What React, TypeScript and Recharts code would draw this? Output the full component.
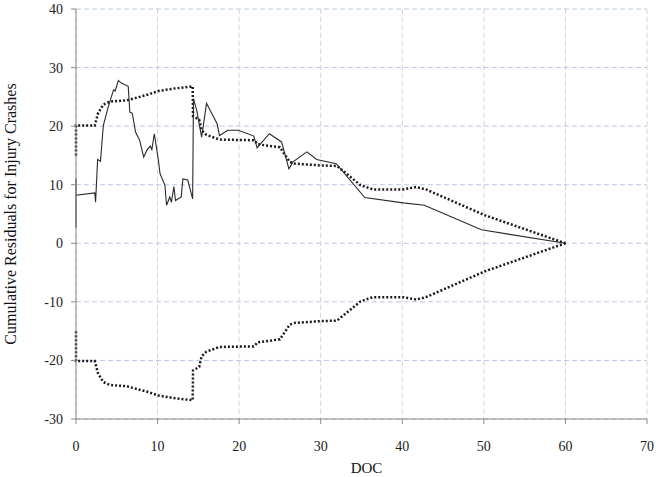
import React from "react";
import { LineChart, Line, XAxis, YAxis, CartesianGrid, Label } from "recharts";

// CUSUM-style plot: cumulative residuals vs DOC with upper/lower bounds

const xTicks = [0, 10, 20, 30, 40, 50, 60, 70];
const yTicks = [-30, -20, -10, 0, 10, 20, 30, 40];

const residualX = [
  0, 0, 0, 2.3, 2.4, 2.65, 3.0, 3.35, 3.95, 4.6, 4.8, 5.2, 5.5, 6.4, 6.6, 6.9,
  7.3, 7.8, 8.3, 8.7, 9.1, 9.3, 9.6, 10.1, 10.3, 10.9, 11.1, 11.5, 11.7, 12.0,
  12.2, 12.9, 13.1, 13.7, 14.3, 14.4, 14.8, 15.4, 16.0, 17.3, 17.6, 18.6, 19.9,
  21.8, 22.2, 23.7, 25.2, 26.1, 26.6, 28.3, 29.5, 31.9, 35.4, 40.1, 42.7, 49.7,
  60,
];
const residualY = [
  11, 2.7, 8.2, 8.6, 7.0, 14.3, 14.0, 20.1, 23.3, 26.2, 26.0, 27.8, 27.4, 26.8,
  22.4, 22.2, 19.0, 17.6, 14.7, 15.9, 16.6, 16.0, 18.7, 14.2, 11.9, 9.9, 6.5,
  7.9, 7.0, 9.7, 7.3, 7.9, 11.0, 10.8, 7.6, 24.7, 22.7, 18.1, 23.9, 20.4, 18.4,
  19.3, 19.3, 18.3, 16.3, 18.7, 17.3, 12.7, 13.9, 15.6, 14.3, 13.6, 7.8, 6.9,
  6.5, 2.3, 0,
];

const boundX = [
  0, 0, 2.3, 2.7, 3.35, 4.2, 6.2, 7.8, 8.85, 10.1, 11.9, 14.3, 14.35, 15.1,
  15.4, 16.0, 17.6, 21.8, 22.3, 25.0, 26.2, 26.8, 29.9, 32.0, 34.9, 36.4, 40.1,
  41.7, 42.9, 50.1, 60,
];
const upperY = [
  15, 20.1, 20.1, 22.2, 23.7, 24.2, 24.4, 25.0, 25.4, 26.0, 26.4, 26.8, 21.7,
  21.1, 19.3, 18.5, 17.7, 17.6, 16.9, 16.4, 13.9, 13.6, 13.3, 13.2, 9.9, 9.2,
  9.2, 9.6, 9.2, 4.8, 0,
];
const lowerY = [
  -15, -20.1, -20.1, -22.2, -23.7, -24.2, -24.4, -25.0, -25.4, -26.0, -26.4,
  -26.8, -21.7, -21.1, -19.3, -18.5, -17.7, -17.6, -16.9, -16.4, -13.9, -13.6,
  -13.3, -13.2, -9.9, -9.2, -9.2, -9.6, -9.2, -4.8, 0,
];

const residualData = residualX.map((x, i) => ({ x, y: residualY[i] }));
const upperData = boundX.map((x, i) => ({ x, y: upperY[i] }));
const lowerData = boundX.map((x, i) => ({ x, y: lowerY[i] }));

const serif = "'Liberation Serif', 'Times New Roman', serif";

export default function App() {
  return (
    <div style={{ position: "absolute", left: 0, top: 0, background: "#fff" }}>
      <LineChart
        width={656}
        height={477}
        margin={{ top: 9, right: 9, bottom: 0, left: 0 }}
      >
        <CartesianGrid
          horizontal={false}
          stroke="#d4d4d4"
          strokeDasharray="5 3"
        />
        <CartesianGrid
          vertical={false}
          stroke="#b9c9e6"
          strokeDasharray="5 3"
        />
        <XAxis
          dataKey="x"
          type="number"
          domain={[0, 70]}
          ticks={xTicks}
          height={58}
          stroke="#888"
          tickSize={5}
          tickMargin={17}
          tick={{ fill: "#222", fontSize: 14, fontFamily: serif }}
        >
          <Label
            value="DOC"
            position="insideBottom"
            offset={4}
            dx={5}
            style={{ fill: "#111", fontSize: 15, fontFamily: serif }}
          />
        </XAxis>
        <YAxis
          type="number"
          domain={[-30, 40]}
          ticks={yTicks}
          width={76}
          stroke="#888"
          tickSize={5}
          tickMargin={8}
          tick={{ fill: "#222", fontSize: 14, fontFamily: serif }}
        >
          <Label
            value="Cumulative Residuals for Injury Crashes"
            angle={-90}
            position="insideLeft"
            offset={10}
            style={{
              fill: "#111",
              fontSize: 16,
              fontFamily: serif,
              textAnchor: "middle",
            }}
          />
        </YAxis>
        <Line
          data={upperData}
          dataKey="y"
          type="linear"
          stroke="#1a1a1a"
          strokeWidth={2.5}
          strokeDasharray="2 2"
          dot={false}
          activeDot={false}
          isAnimationActive={false}
        />
        <Line
          data={lowerData}
          dataKey="y"
          type="linear"
          stroke="#1a1a1a"
          strokeWidth={2.5}
          strokeDasharray="2 2"
          dot={false}
          activeDot={false}
          isAnimationActive={false}
        />
        <Line
          data={residualData}
          dataKey="y"
          type="linear"
          stroke="#2a2a2a"
          strokeWidth={1.1}
          dot={false}
          activeDot={false}
          isAnimationActive={false}
        />
      </LineChart>
    </div>
  );
}
